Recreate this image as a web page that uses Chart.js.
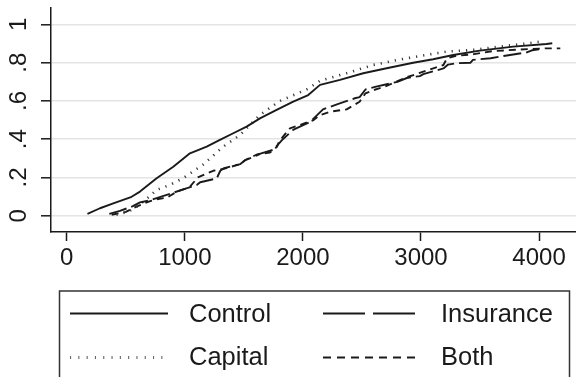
<!DOCTYPE html>
<html><head><meta charset="utf-8">
<script src="https://cdn.jsdelivr.net/npm/chart.js@4"></script>
<style>html,body{margin:0;padding:0;background:#fff;overflow:hidden}#wrap{width:576px;height:377px;position:relative}</style>
</head><body>
<div id="wrap"><canvas id="c" width="576" height="377"></canvas></div>
<script>
// ---- data ----
const controlX = [175, 281, 394, 549, 620, 761, 902, 1043, 1185, 1297, 1410, 1523, 1636, 1777, 1918, 2045, 2145, 2314, 2511, 2709, 2934, 3103, 3273, 3498, 3781, 4063, 4112];
const controlY = [0.01, 0.039, 0.065, 0.099, 0.126, 0.196, 0.256, 0.326, 0.361, 0.396, 0.431, 0.466, 0.509, 0.553, 0.596, 0.631, 0.684, 0.710, 0.745, 0.771, 0.800, 0.818, 0.840, 0.863, 0.884, 0.898, 0.902];

const insuranceX = [360, 450, 560, 620, 700, 800, 900, 1000, 1100, 1130, 1270, 1300, 1330, 1470, 1510, 1610, 1640, 1750, 1800, 1830, 1920, 2060, 2170, 2300, 2440, 2480, 2530, 2620, 2800, 2880, 2990, 3020, 3190, 3230, 3300, 3420, 3440, 3590, 3700, 3890, 3940, 4000];
const insuranceY = [0.01, 0.025, 0.05, 0.07, 0.08, 0.10, 0.12, 0.14, 0.16, 0.175, 0.195, 0.235, 0.248, 0.27, 0.29, 0.315, 0.325, 0.345, 0.38, 0.40, 0.45, 0.49, 0.556, 0.585, 0.614, 0.62, 0.66, 0.675, 0.70, 0.72, 0.73, 0.74, 0.77, 0.79, 0.797, 0.80, 0.815, 0.823, 0.835, 0.853, 0.865, 0.87];

const capitalX = [420, 520, 600, 700, 760, 870, 990, 1156, 1325, 1467, 1636, 1805, 2031, 2145, 2370, 2595, 2793, 2991, 3217, 3442, 3668, 3950, 4010];
const capitalY = [0.005, 0.02, 0.05, 0.10, 0.135, 0.16, 0.198, 0.268, 0.361, 0.422, 0.527, 0.60, 0.66, 0.705, 0.745, 0.788, 0.814, 0.835, 0.858, 0.867, 0.884, 0.905, 0.91];

const bothX = [380, 500, 600, 700, 750, 850, 930, 1040, 1110, 1240, 1330, 1470, 1510, 1610, 1720, 1780, 1800, 1890, 1975, 2090, 2140, 2230, 2370, 2480, 2530, 2600, 2680, 2880, 3020, 3190, 3220, 3290, 3450, 3600, 3800, 4060, 4180];
const bothY = [0.005, 0.02, 0.05, 0.075, 0.085, 0.095, 0.125, 0.15, 0.20, 0.235, 0.245, 0.27, 0.29, 0.32, 0.33, 0.36, 0.39, 0.457, 0.474, 0.50, 0.525, 0.544, 0.556, 0.596, 0.64, 0.657, 0.672, 0.724, 0.753, 0.788, 0.823, 0.835, 0.845, 0.86, 0.868, 0.875, 0.875];

const seriesNames = ["Control", "Insurance", "Capital", "Both"];
const xTicks = [0, 1000, 2000, 3000, 4000];
const xTickLabels = ["0", "1000", "2000", "3000", "4000"];
const yTicks = [0, 0.2, 0.4, 0.6, 0.8, 1];
const yTickLabels = ["0", ".2", ".4", ".6", ".8", "1"];

// ---- styling ----
const FONT = '"Liberation Sans", Arial, Helvetica, sans-serif';
const INK = '#1a1a1a';
const styles = {
  Control:   {color: INK,    width: 1.9, dash: [],       legendDash: []},
  Insurance: {color: INK,    width: 1.9, dash: [18, 5],  legendDash: [42, 8]},
  Capital:   {color: '#3a3a3a', width: 2.6, dash: [1.2, 6], legendDash: [1.1, 7.2]},
  Both:      {color: INK,    width: 1.9, dash: [7, 5],   legendDash: [8, 6]}
};
const seriesX = {Control: controlX, Insurance: insuranceX, Capital: capitalX, Both: bothX};
const seriesY = {Control: controlY, Insurance: insuranceY, Capital: capitalY, Both: bothY};

const datasets = seriesNames.map(n => ({
  label: n,
  data: seriesX[n].map((x, i) => ({x: x, y: seriesY[n][i]})),
  borderColor: styles[n].color,
  borderWidth: styles[n].width,
  borderDash: styles[n].dash,
  pointRadius: 0,
  tension: 0,
  fill: false,
  borderCapStyle: 'butt',
  borderJoinStyle: 'round'
}));

const legendPlugin = {
  id: 'boxLegend',
  afterDraw(chart) {
    const ctx = chart.ctx;
    ctx.save();
    ctx.setLineDash([]);
    ctx.strokeStyle = '#333';
    ctx.lineWidth = 1.5;
    ctx.strokeRect(59.5, 291, 510, 130);
    const cols = [{x0: 70, x1: 168, tx: 189}, {x0: 323, x1: 416, tx: 441}];
    const rows = [{line: 313.5, text: 315}, {line: 357.5, text: 357.5}];
    const order = ["Control", "Insurance", "Capital", "Both"];
    order.forEach((name, i) => {
      const ds = chart.data.datasets.find(d => d.label === name);
      const c = cols[i % 2], r = rows[Math.floor(i / 2)];
      ctx.beginPath();
      ctx.setLineDash(styles[name].legendDash);
      ctx.lineWidth = name === 'Capital' ? 3 : ds.borderWidth;
      ctx.strokeStyle = name === 'Capital' ? '#666' : ds.borderColor;
      ctx.moveTo(c.x0, r.line);
      ctx.lineTo(c.x1, r.line);
      ctx.stroke();
      ctx.setLineDash([]);
      ctx.fillStyle = INK;
      ctx.font = '25.5px ' + FONT;
      ctx.textBaseline = 'middle';
      ctx.textAlign = 'left';
      ctx.fillText(name, c.tx, r.text);
    });
    ctx.restore();
  }
};

new Chart(document.getElementById('c'), {
  type: 'line',
  data: {datasets: datasets},
  options: {
    responsive: false,
    animation: false,
    devicePixelRatio: 1,
    layout: {padding: {top: 8, left: 0, right: 0, bottom: 0}},
    plugins: {legend: {display: false}, tooltip: {enabled: false}},
    scales: {
      x: {
        type: 'linear',
        min: -133.8,
        max: 4313,
        afterBuildTicks: s => { s.ticks = xTicks.map(v => ({value: v})); },
        afterFit: s => { s.height = 145; s.paddingLeft = 0; s.paddingRight = 0; },
        ticks: {
          color: INK, padding: 3, maxRotation: 0, minRotation: 0,
          font: {family: FONT, size: 24},
          callback: (v) => { const i = xTicks.indexOf(v); return i >= 0 ? xTickLabels[i] : ''; }
        },
        grid: {drawOnChartArea: false, drawTicks: true, tickLength: 9, tickColor: INK, tickWidth: 1.5},
        border: {display: true, color: INK, width: 1.5}
      },
      y: {
        type: 'linear',
        min: -0.0852,
        max: 1.086,
        afterBuildTicks: s => { s.ticks = yTicks.map(v => ({value: v})); },
        afterFit: s => { s.width = 51; s.paddingTop = 0; s.paddingBottom = 0; },
        ticks: {
          color: INK, padding: 12, minRotation: 90, maxRotation: 90, crossAlign: 'center',
          font: {family: FONT, size: 24},
          callback: (v) => { const i = yTicks.findIndex(t => Math.abs(t - v) < 1e-9); return i >= 0 ? yTickLabels[i] : ''; }
        },
        grid: {color: '#e4e4e4', lineWidth: 1.6, drawTicks: true, tickLength: 10, tickColor: INK, tickWidth: 1.5},
        border: {display: true, color: INK, width: 1.5}
      }
    }
  },
  plugins: [legendPlugin]
});
</script>
</body></html>
